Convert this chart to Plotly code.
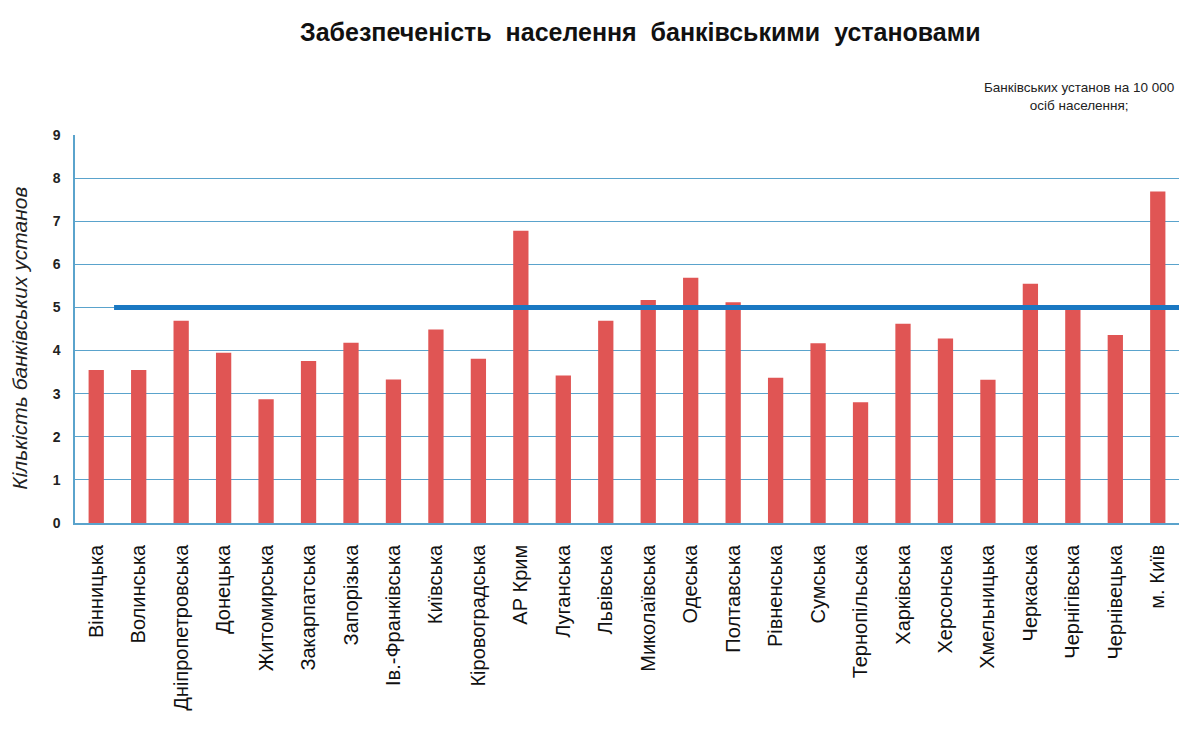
import plotly.graph_objects as go

########### data ###########
regions = ['Вінницька', 'Волинська', 'Дніпропетровська', 'Донецька', 'Житомирська',
           'Закарпатська', 'Запорізька', 'Ів.-Франківська', 'Київська', 'Кіровоградська',
           'АР Крим', 'Луганська', 'Львівська', 'Миколаївська', 'Одеська',
           'Полтавська', 'Рівненська', 'Сумська', 'Тернопільська', 'Харківська',
           'Херсонська', 'Хмельницька', 'Черкаська', 'Чернігівська', 'Чернівецька',
           'м. Київ']
banks_per_10k = [3.55, 3.55, 4.69, 3.95, 2.87, 3.76, 4.18, 3.33, 4.49, 3.81,
                 6.78, 3.42, 4.69, 5.17, 5.69, 5.12, 3.37, 4.17, 2.80, 4.62,
                 4.28, 3.32, 5.55, 4.97, 4.36, 7.69]
norm_value = 5
y_ticks = [0, 1, 2, 3, 4, 5, 6, 7, 8, 9]

grid_col = '#5aa3cc'

fig = go.Figure()
fig.add_trace(go.Bar(x=regions, y=banks_per_10k, width=0.36,
                     marker=dict(color='#e05554', line_width=0),
                     showlegend=False))

# норматив - горизонтальна лінія
fig.add_shape(type='line', xref='x', yref='y', x0=0.42, x1=25.5,
              y0=norm_value, y1=norm_value,
              line=dict(color='#1a78c2', width=5), layer='above')

# сторінка має відступ 8px, тому фігура трохи менша за вікно
fig.update_layout(
  width=1171, height=715,
  paper_bgcolor='white', plot_bgcolor='white',
  margin=dict(l=67, r=0, t=127, b=200),
  title=dict(text='Забезпеченість  населення  банківськими  установами',
             x=0.54, xanchor='center', y=0.966, yanchor='middle',
             font=dict(family='Liberation Sans, Arial', size=25,
                       color='#111111', weight='bold')),
  annotations=[
    dict(text='Банківських установ на 10 000<br>осіб населення;',
         xref='paper', yref='paper', x=0.997, y=1.098, xanchor='right', yanchor='middle',
         showarrow=False, align='center',
         font=dict(family='Liberation Sans, Arial', size=13.5, color='#222222')),
    dict(text='Кількість банківських установ',
         xref='paper', yref='paper', x=-0.05, y=0.477, textangle=-90,
         xanchor='center', yanchor='middle', showarrow=False,
         font=dict(family='Liberation Sans, Arial', size=21, color='#222222', style='italic')),
  ],
)

fig.update_xaxes(
  tickangle=-90, showgrid=False,
  tickfont=dict(family='Liberation Sans, Arial', size=20, color='#111111'),
  showline=True, linecolor=grid_col, linewidth=1.5,
  ticks='', range=[-0.5, 25.5], ticklabelstandoff=12,
)
fig.update_yaxes(
  range=[0, 9], tickvals=y_ticks, ticktext=[str(v) for v in y_ticks],
  showgrid=True, gridcolor=grid_col, gridwidth=1.2,
  showline=True, linecolor=grid_col, linewidth=1.5,
  zeroline=False, ticks='', ticklabelstandoff=10,
  tickfont=dict(family='Liberation Sans, Arial', size=14, color='#222222', weight='bold'),
)

fig.write_html('out.html')
